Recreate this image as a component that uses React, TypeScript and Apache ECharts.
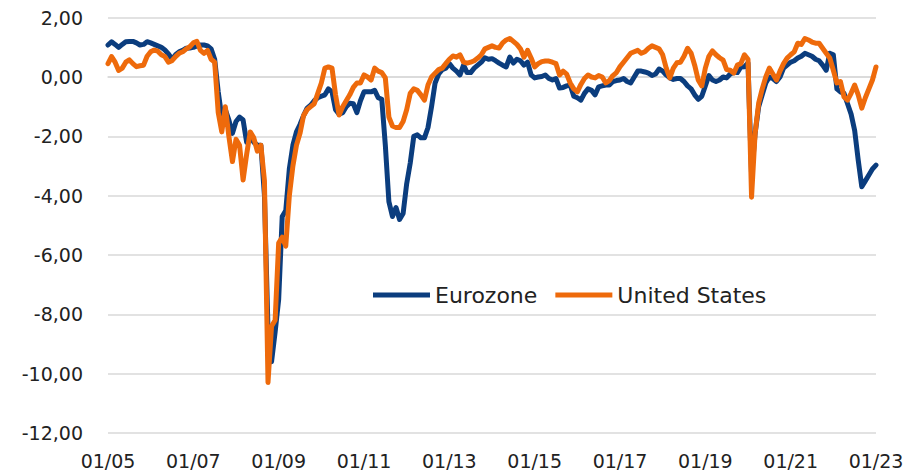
import React, { useEffect, useRef } from "react";
import * as echarts from "echarts";

const startYear = 2005;
const monthCount = 217;

const categories: string[] = Array.from({ length: monthCount }, (_, i) => {
  const mm = String((i % 12) + 1).padStart(2, "0");
  const yy = String((startYear + Math.floor(i / 12)) % 100).padStart(2, "0");
  return `${mm}/${yy}`;
});

const eurozone: number[] = [
  1.08, 1.19, 1.1, 1.0, 1.1, 1.19, 1.2, 1.2, 1.15, 1.08, 1.1, 1.19,
  1.15, 1.1, 1.05, 1.0, 0.91, 0.78, 0.6, 0.75, 0.85, 0.9, 0.97, 0.98,
  1.0, 1.05, 1.08, 1.08, 1.05, 0.95, 0.6, -0.5, -1.35, -1.1, -1.45, -1.9,
  -1.5, -1.35, -1.45, -2.2, -2.0, -2.2, -2.3, -2.3, -4.0, -8.5, -9.6, -8.6,
  -7.5, -4.7, -4.5, -3.1, -2.3, -1.85, -1.6, -1.3, -1.05, -0.95, -0.8, -0.7,
  -0.65, -0.6, -0.4, -0.5, -1.1, -1.25, -1.2, -1.0, -0.88, -0.9, -1.2, -0.8,
  -0.5, -0.5, -0.5, -0.45, -0.7, -0.75, -2.3, -4.2, -4.7, -4.4, -4.8, -4.6,
  -3.6, -2.9, -2.0, -1.95, -2.05, -2.05, -1.7, -1.0, -0.2, 0.1, 0.25, 0.3,
  0.45, 0.3, 0.2, 0.07, 0.4, 0.15, 0.15, 0.3, 0.4, 0.5, 0.65, 0.6,
  0.62, 0.55, 0.47, 0.4, 0.34, 0.67, 0.47, 0.6, 0.55, 0.4, 0.5, 0.07,
  -0.03, 0.0, 0.02, 0.07, -0.05, -0.1, -0.05, -0.37, -0.35, -0.3, -0.27, -0.65,
  -0.7, -0.78, -0.55, -0.4, -0.45, -0.6, -0.33, -0.3, -0.27, -0.27, -0.15, -0.12,
  -0.1, -0.05, -0.15, -0.2, 0.0, 0.2, 0.2, 0.17, 0.13, 0.05, 0.1, 0.27,
  0.2, 0.07, -0.03, -0.08, -0.05, -0.05, -0.15, -0.3, -0.4, -0.6, -0.75, -0.65,
  -0.3, 0.05, -0.1, -0.15, -0.1, 0.0, -0.03, 0.1, 0.17, 0.15, 0.34, 0.35,
  0.47, -3.3, -1.9, -1.0, -0.6, -0.2, 0.0, -0.05, -0.15, 0.0, 0.3, 0.4,
  0.5, 0.55, 0.64, 0.7, 0.8, 0.75, 0.7, 0.6, 0.55, 0.4, 0.23, 0.8,
  0.75, -0.4, -0.5, -0.55, -0.9, -1.25, -1.8, -2.8, -3.7, -3.5, -3.3, -3.1,
  -2.97,
];

const unitedStates: number[] = [
  0.45, 0.69, 0.5, 0.22, 0.3, 0.5, 0.58, 0.45, 0.35, 0.38, 0.4, 0.7,
  0.85, 0.91, 0.87, 0.75, 0.69, 0.5, 0.55, 0.69, 0.8, 0.85, 0.95, 1.02,
  1.15, 1.2, 0.9, 0.8, 0.9, 0.6, 0.5, -1.2, -1.85, -1.0, -2.0, -2.85,
  -2.1, -2.3, -3.47, -2.6, -1.85, -2.05, -2.5, -2.3, -3.5, -10.3, -8.4, -8.2,
  -5.6, -5.4, -5.7, -4.0, -3.0, -2.3, -1.9, -1.3, -1.1, -1.0, -0.9, -0.55,
  -0.2, 0.3, 0.34, 0.3, -0.6, -1.28, -1.0, -0.8, -0.6, -0.35, -0.2, -0.2,
  0.07, 0.0, -0.1, 0.3, 0.2, 0.15, -0.03, -1.35, -1.65, -1.7, -1.7, -1.5,
  -1.1, -0.55, -0.4, -0.45, -0.6, -0.78, -0.27, 0.0, 0.13, 0.25, 0.3, 0.45,
  0.6, 0.71, 0.67, 0.75, 0.5, 0.47, 0.5, 0.55, 0.64, 0.75, 0.95, 1.0,
  1.05, 1.0, 0.98, 1.15, 1.25, 1.3, 1.2, 1.1, 0.95, 0.67, 0.9, 0.64,
  0.34, 0.45, 0.52, 0.54, 0.54, 0.5, 0.45, 0.07, 0.2, 0.1, -0.2, -0.4,
  -0.5, -0.25, -0.05, 0.07, 0.0, -0.03, 0.05, 0.0, -0.2, -0.12, 0.05, 0.15,
  0.35, 0.5, 0.65, 0.8, 0.85, 0.9, 0.8, 0.85, 0.97, 1.05, 1.0, 0.95,
  0.75, 0.3, -0.03, 0.3, 0.48, 0.5, 0.7, 0.97, 0.8, 0.4, -0.1, -0.3,
  0.3, 0.7, 0.88, 0.75, 0.65, 0.57, 0.25, 0.23, 0.13, 0.4, 0.45, 0.75,
  0.6, -4.05, -1.9, -0.88, -0.4, 0.0, 0.3, 0.1, -0.1, 0.2, 0.45, 0.64,
  0.75, 0.85, 1.14, 1.1, 1.3, 1.25, 1.18, 1.14, 1.14, 0.97, 0.8, 0.64,
  0.23, -0.2, -0.15, -0.67, -0.78, -0.55, -0.27, -0.6, -1.05, -0.7, -0.4, -0.1,
  0.34,
];

const seriesNames = ["Eurozone", "United States"];
const seriesColors = ["#0B3D7E", "#EE6A0B"];
const yMin = -12;
const yMax = 2;
const yStep = 2;

const FONT = "DejaVu Sans";

export default function App() {
  const ref = useRef<HTMLDivElement>(null);

  useEffect(() => {
    if (!ref.current) return;
    const chart = echarts.init(ref.current, undefined, { renderer: "svg" });
    const mkSeries = (name: string, data: number[], color: string) => ({
      name,
      type: "line",
      data,
      showSymbol: false,
      symbol: "none",
      smooth: false,
      lineStyle: { color, width: 5, cap: "round", join: "round" },
      itemStyle: { color },
    });
    chart.setOption({
      animation: false,
      backgroundColor: "#ffffff",
      grid: { left: 108, right: 42, top: 17.7, bottom: 43, containLabel: false },
      legend: {
        left: 368,
        top: 279,
        itemWidth: 57,
        itemHeight: 5,
        itemGap: 18,
        icon: "rect",
        textStyle: { fontFamily: FONT, fontSize: 22, color: "#222" },
        data: seriesNames,
      },
      xAxis: {
        type: "category",
        data: categories,
        boundaryGap: false,
        axisLine: { show: true, lineStyle: { color: "#d9d9d9", width: 1.5 } },
        axisTick: { show: false },
        splitLine: { show: false },
        axisLabel: {
          interval: (i: number) => i % 24 === 0,
          margin: 18,
          fontFamily: FONT,
          fontSize: 19,
          color: "#222",
          showMaxLabel: true,
        },
      },
      yAxis: {
        type: "value",
        min: yMin,
        max: yMax,
        interval: yStep,
        axisLine: { show: false },
        axisTick: { show: false },
        splitLine: { lineStyle: { color: "#d9d9d9", width: 1.5 } },
        axisLabel: {
          margin: 25,
          fontFamily: FONT,
          fontSize: 19,
          color: "#222",
          formatter: (v: number) => v.toFixed(2).replace(".", ","),
        },
      },
      series: [
        mkSeries(seriesNames[0], eurozone, seriesColors[0]),
        mkSeries(seriesNames[1], unitedStates, seriesColors[1]),
      ],
    });
    return () => chart.dispose();
  }, []);

  return <div ref={ref} style={{ width: 918, height: 476, position: "absolute", left: 0, top: 0 }} />;
}
